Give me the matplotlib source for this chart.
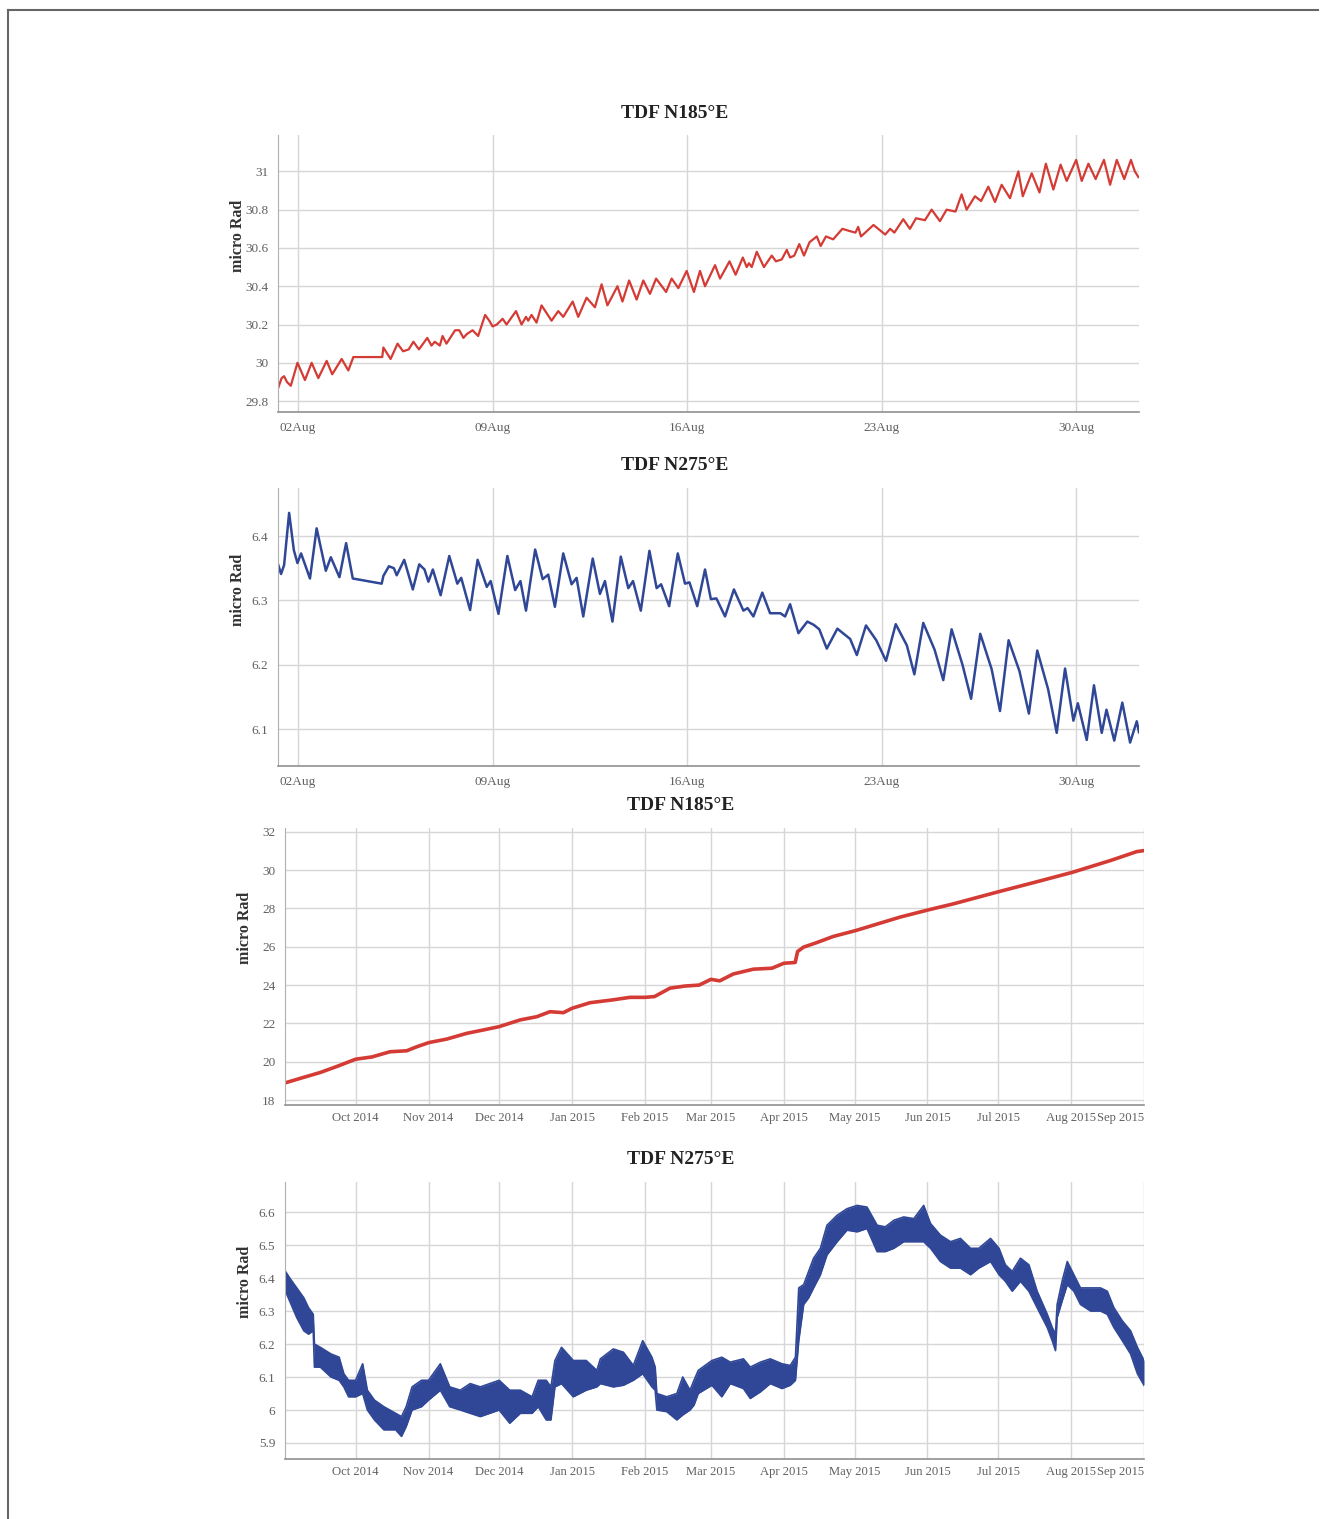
import numpy as np
import pandas as pd
import matplotlib
matplotlib.use('Agg')
import matplotlib.pyplot as plt
import matplotlib.dates as mdates
from matplotlib.lines import Line2D

# --- donnees ---
# aout 2015 : jours depuis le 02 aout 00:00
aug185_t = [-0.71, -0.59, -0.50, -0.40, -0.26, -0.02, 0.25, 0.49, 0.73, 1.03, 1.23, 1.57, 1.81, 1.99,
            3.03, 3.07, 3.33, 3.58, 3.78, 3.98, 4.15, 4.35, 4.65, 4.80, 4.92, 5.10, 5.20, 5.34, 5.65,
            5.80, 5.95, 6.07, 6.28, 6.48, 6.73, 6.88, 7.00, 7.15, 7.36, 7.50, 7.84, 8.04, 8.20, 8.28,
            8.40, 8.58, 8.76, 9.12, 9.36, 9.54, 9.88, 10.08, 10.38, 10.68, 10.92, 11.13, 11.49, 11.67,
            11.91, 12.18, 12.42, 12.66, 12.88, 13.24, 13.44, 13.68, 13.98, 14.24, 14.46, 14.64, 15.00,
            15.18, 15.52, 15.74, 16.00, 16.14, 16.22, 16.32, 16.50, 16.76, 17.04, 17.19, 17.40, 17.58,
            17.70, 17.85, 18.03, 18.20, 18.40, 18.66, 18.80, 18.99, 19.25, 19.58, 19.80, 20.05, 20.15,
            20.25, 20.70, 21.12, 21.30, 21.45, 21.77, 22.01, 22.23, 22.55, 22.79, 23.09, 23.33, 23.65,
            23.87, 24.05, 24.35, 24.57, 24.83, 25.07, 25.31, 25.61, 25.91, 26.07, 26.39, 26.67, 26.90,
            27.17, 27.43, 27.65, 27.99, 28.19, 28.43, 28.69, 28.99, 29.21, 29.45, 29.72, 29.96, 30.10,
            30.23]
aug185_v = [29.87, 29.92, 29.93, 29.90, 29.88, 30.00, 29.91, 30.00, 29.92, 30.01, 29.94, 30.02, 29.96, 30.03,
            30.03, 30.08, 30.02, 30.10, 30.06, 30.07, 30.11, 30.07, 30.13, 30.09, 30.11, 30.09, 30.14, 30.10, 30.17,
            30.17, 30.13, 30.15, 30.17, 30.14, 30.25, 30.22, 30.19, 30.20, 30.23, 30.20, 30.27, 30.20, 30.24, 30.22,
            30.25, 30.21, 30.30, 30.22, 30.27, 30.24, 30.32, 30.24, 30.34, 30.29, 30.41, 30.30, 30.40, 30.32,
            30.43, 30.33, 30.43, 30.36, 30.44, 30.37, 30.44, 30.39, 30.48, 30.37, 30.48, 30.40, 30.51,
            30.44, 30.53, 30.46, 30.55, 30.50, 30.52, 30.50, 30.58, 30.50, 30.56, 30.53, 30.54, 30.59,
            30.55, 30.56, 30.62, 30.56, 30.63, 30.66, 30.61, 30.66, 30.645, 30.70, 30.69, 30.68, 30.71,
            30.66, 30.72, 30.67, 30.70, 30.68, 30.75, 30.70, 30.755, 30.745, 30.80, 30.74, 30.80, 30.79,
            30.88, 30.80, 30.87, 30.845, 30.92, 30.84, 30.93, 30.86, 31.00, 30.87, 30.99, 30.89, 31.04,
            30.905, 31.035, 30.95, 31.06, 30.95, 31.04, 30.96, 31.06, 30.93, 31.06, 30.96, 31.06, 31.00,
            30.97]

aug275_t = [-0.71, -0.61, -0.50, -0.32, -0.15, -0.02, 0.11, 0.43, 0.67, 1.00, 1.18, 1.49, 1.73, 1.97,
            3.01, 3.07, 3.27, 3.45, 3.55, 3.82, 4.13, 4.36, 4.55, 4.69, 4.85, 5.13, 5.44, 5.73, 5.87,
            6.19, 6.46, 6.79, 6.93, 7.21, 7.53, 7.81, 8.00, 8.20, 8.53, 8.80, 9.00, 9.24, 9.54, 9.84,
            10.02, 10.26, 10.60, 10.86, 11.04, 11.31, 11.61, 11.88, 12.05, 12.33, 12.64, 12.90, 13.06,
            13.35, 13.66, 13.92, 14.08, 14.36, 14.64, 14.85, 15.05, 15.36, 15.68, 16.02, 16.17, 16.38,
            16.70, 16.98, 17.35, 17.52, 17.70, 18.00, 18.32, 18.55, 18.75, 19.02, 19.40, 19.86, 20.10,
            20.43, 20.80, 21.15, 21.50, 21.90, 22.17, 22.49, 22.90, 23.21, 23.51, 23.90, 24.21, 24.54,
            24.95, 25.25, 25.56, 25.95, 26.29, 26.59, 26.98, 27.29, 27.59, 27.89, 28.05, 28.37, 28.63,
            28.91, 29.08, 29.36, 29.65, 29.93, 30.17, 30.25]
aug275_v = [6.355, 6.341, 6.355, 6.436, 6.378, 6.358, 6.373, 6.334, 6.412, 6.346, 6.367, 6.336, 6.389, 6.334,
            6.326, 6.338, 6.353, 6.350, 6.339, 6.363, 6.317, 6.356, 6.348, 6.329, 6.348, 6.308, 6.369, 6.326, 6.335,
            6.285, 6.363, 6.321, 6.330, 6.279, 6.369, 6.316, 6.330, 6.284, 6.379, 6.333, 6.340, 6.290, 6.373, 6.325,
            6.335, 6.275, 6.365, 6.310, 6.330, 6.267, 6.368, 6.319, 6.330, 6.284, 6.377, 6.319, 6.325,
            6.291, 6.373, 6.326, 6.328, 6.291, 6.348, 6.302, 6.303, 6.275, 6.317, 6.284, 6.288, 6.275,
            6.312, 6.280, 6.280, 6.275, 6.294, 6.249, 6.267, 6.262, 6.255, 6.225, 6.256, 6.240, 6.215,
            6.261, 6.238, 6.206, 6.263, 6.230, 6.185, 6.265, 6.223, 6.176, 6.255, 6.200, 6.147, 6.248,
            6.193, 6.128, 6.238, 6.190, 6.124, 6.222, 6.162, 6.094, 6.194, 6.113, 6.140, 6.083, 6.168,
            6.094, 6.130, 6.082, 6.141, 6.079, 6.112, 6.095]

# sept 2014 - sept 2015 : jours depuis le 01 sept 2014
yr185_t = [0.2, 7, 14.8, 22, 30, 37, 44.6, 51.7, 56, 61.2, 68.7, 77.2, 84, 91, 99.9, 107, 112.6, 118.3,
           122, 129.6, 138.8, 146.6, 153, 157, 163.6, 170, 176, 181, 184.7, 190.5, 199, 206.9, 212,
           216.8, 217.8, 220.3, 226, 233, 242.6, 253.6, 261.4, 273.5, 284, 303.4, 318.1, 334.4, 350.7,
           362, 365]
yr185_v = [18.90, 19.15, 19.43, 19.75, 20.13, 20.25, 20.52, 20.57, 20.78, 21.00, 21.18, 21.48, 21.65, 21.83,
           22.18, 22.35, 22.61, 22.56, 22.79, 23.08, 23.22, 23.36, 23.36, 23.40, 23.84, 23.95, 24.00, 24.30,
           24.22, 24.58, 24.83, 24.88, 25.14, 25.18, 25.75, 25.98, 26.22, 26.54, 26.85, 27.26, 27.55, 27.93,
           28.24, 28.88, 29.35, 29.88, 30.50, 30.97, 31.02]

yr275_t = [0.2, 2, 5, 8, 10, 12, 12.5, 15, 19.5, 23, 25, 27, 30, 33, 35, 38, 42, 47, 49.5, 51.5, 54, 58,
           61, 66, 70, 74.5, 78.7, 83, 87, 91, 95.5, 100, 105, 107.6, 111, 113, 114.7, 117.5, 122.5, 128,
           132.5, 134, 139.5, 143.8, 148, 152, 155.9, 157.3, 158, 162.2, 166.5, 169, 172.1, 173.8, 175.6,
           181.4, 185.6, 189.2, 194.8, 197.7, 202, 206.2, 211.2, 214.7, 216.9, 218.3, 220.4, 222.5, 224.6,
           227.5, 230.3, 234.6, 238.8, 243.1, 247.3, 251.6, 255.1, 258.7, 262.9, 267.2, 271.4, 274.3,
           278.5, 282.8, 287, 291.3, 294.8, 299.8, 303.4, 306.1, 309, 312.5, 316.1, 319.6, 323.9, 326,
           327.4, 328.1, 330.2, 332.4, 335.2, 338, 342.3, 346.5, 349.4, 352.2, 355.8, 359.3, 362.2, 365]
yr275_hi = [6.42, 6.40, 6.37, 6.34, 6.31, 6.29, 6.20, 6.19, 6.17, 6.16, 6.11, 6.09, 6.09, 6.14, 6.06, 6.03,
            6.01, 5.99, 5.98, 6.01, 6.07, 6.09, 6.09, 6.14, 6.07, 6.06, 6.08, 6.07, 6.08, 6.09, 6.06, 6.06,
            6.04, 6.09, 6.09, 6.07, 6.15, 6.19, 6.15, 6.15, 6.12, 6.155, 6.185, 6.175, 6.135, 6.21, 6.16,
            6.13, 6.05, 6.04, 6.05, 6.10, 6.06, 6.09, 6.12, 6.15, 6.16, 6.145, 6.155, 6.13, 6.145, 6.155,
            6.14, 6.135, 6.16, 6.37, 6.38, 6.42, 6.46, 6.49, 6.56, 6.59, 6.61, 6.62, 6.615, 6.56, 6.555,
            6.575, 6.585, 6.58, 6.62, 6.565, 6.53, 6.51, 6.52, 6.49, 6.49, 6.52, 6.49, 6.44, 6.42, 6.46,
            6.44, 6.36, 6.29, 6.25, 6.23, 6.32, 6.39, 6.45, 6.41, 6.37, 6.37, 6.37, 6.36, 6.31, 6.27,
            6.24, 6.19, 6.15]
yr275_lo = [6.36, 6.33, 6.28, 6.24, 6.23, 6.24, 6.13, 6.13, 6.10, 6.09, 6.07, 6.04, 6.04, 6.05, 6.00, 5.97,
            5.94, 5.94, 5.92, 5.95, 6.00, 6.01, 6.03, 6.06, 6.01, 6.00, 5.99, 5.98, 5.99, 6.00, 5.96, 5.99,
            5.99, 6.01, 5.97, 5.97, 6.07, 6.08, 6.04, 6.06, 6.07, 6.08, 6.07, 6.075, 6.09, 6.11, 6.07,
            6.06, 6.00, 5.995, 5.97, 5.985, 6.00, 6.015, 6.05, 6.075, 6.04, 6.08, 6.065, 6.035, 6.055, 6.08,
            6.065, 6.075, 6.09, 6.21, 6.32, 6.34, 6.37, 6.41, 6.47, 6.51, 6.545, 6.54, 6.55, 6.48, 6.48,
            6.49, 6.51, 6.51, 6.51, 6.49, 6.45, 6.43, 6.43, 6.41, 6.43, 6.45, 6.41, 6.39, 6.36, 6.39,
            6.36, 6.31, 6.25, 6.21, 6.18, 6.28, 6.33, 6.38, 6.36, 6.32, 6.30, 6.30, 6.29, 6.25, 6.21,
            6.17, 6.11, 6.075]

aug_ticks = ['2015-08-02', '2015-08-09', '2015-08-16', '2015-08-23', '2015-08-30']
yr_ticks = pd.date_range('2014-10-01', '2015-09-01', freq='MS')

RED = '#d43b34'
BLUE = '#2f4796'
SERIF = 'Liberation Serif'


def to_dates(base, days):
    return pd.Timestamp(base) + pd.to_timedelta(np.array(days), unit='D')


def style_axes(ax, yticks, ylim):
    ax.set_ylim(*ylim)
    ax.set_yticks(yticks)
    ax.grid(True, color='#d6d6d6', linewidth=1)
    ax.set_axisbelow(True)
    for s in ['top', 'right']:
        ax.spines[s].set_visible(False)
    ax.spines['left'].set_color('#b0b0b0')
    ax.spines['bottom'].set_color('#909090')
    ax.spines['bottom'].set_linewidth(1.2)
    ax.tick_params(length=0, pad=7, labelsize=9.5, labelcolor='#606060')
    for lab in ax.get_xticklabels() + ax.get_yticklabels():
        lab.set_fontfamily(SERIF)


fig = plt.figure(figsize=(13.3, 15.19), dpi=100)
W, H = 1330, 1519


def add_ax(l, r, t, b):
    return fig.add_axes([l / W, 1 - b / H, (r - l) / W, (b - t) / H])


def ytext(v):
    return '%g' % v


# panneau 1
ax1 = add_ax(278, 1139, 135, 412)
ax1.plot(to_dates('2015-08-02', aug185_t), aug185_v, color=RED, lw=1.6, solid_joinstyle='round')
ax1.set_xlim(to_dates('2015-08-02', [-0.72, 30.25]))
ax1.set_xticks(pd.to_datetime(aug_ticks))
ax1.xaxis.set_major_formatter(mdates.DateFormatter('%d%b'))
style_axes(ax1, [29.8, 30, 30.2, 30.4, 30.6, 30.8, 31], (29.743, 31.19))
ax1.set_yticklabels([ytext(v) for v in [29.8, 30, 30.2, 30.4, 30.6, 30.8, 31]], fontfamily=SERIF)

# panneau 2
ax2 = add_ax(278, 1139, 488, 766)
ax2.plot(to_dates('2015-08-02', aug275_t), aug275_v, color=BLUE, lw=1.8, solid_joinstyle='round')
ax2.set_xlim(to_dates('2015-08-02', [-0.72, 30.25]))
ax2.set_xticks(pd.to_datetime(aug_ticks))
ax2.xaxis.set_major_formatter(mdates.DateFormatter('%d%b'))
style_axes(ax2, [6.1, 6.2, 6.3, 6.4], (6.0425, 6.4747))
ax2.set_yticklabels([ytext(v) for v in [6.1, 6.2, 6.3, 6.4]], fontfamily=SERIF)

# panneau 3
ax3 = add_ax(285, 1144, 828, 1105)
ax3.plot(to_dates('2014-09-01', yr185_t), yr185_v, color=RED, lw=2.6, solid_joinstyle='round')
ax3.set_xlim(pd.Timestamp('2014-09-01'), pd.Timestamp('2015-09-01'))
ax3.set_xticks(yr_ticks)
ax3.xaxis.set_major_formatter(mdates.DateFormatter('%b %Y'))
style_axes(ax3, list(range(18, 33, 2)), (17.74, 32.2))
ax3.set_yticklabels([str(v) for v in range(18, 33, 2)], fontfamily=SERIF)

# panneau 4
ax4 = add_ax(285, 1144, 1182, 1459)
d4 = to_dates('2014-09-01', yr275_t)
ax4.fill_between(d4, yr275_lo, yr275_hi, color=BLUE, lw=0)
ax4.plot(d4, yr275_hi, color=BLUE, lw=1.2)
ax4.plot(d4, yr275_lo, color=BLUE, lw=1.2)
ax4.set_xlim(pd.Timestamp('2014-09-01'), pd.Timestamp('2015-09-01'))
ax4.set_xticks(yr_ticks)
ax4.xaxis.set_major_formatter(mdates.DateFormatter('%b %Y'))
yt4 = [5.9, 6.0, 6.1, 6.2, 6.3, 6.4, 6.5, 6.6]
style_axes(ax4, yt4, (5.8515, 6.691))
ax4.set_yticklabels([ytext(v) for v in yt4], fontfamily=SERIF)

for ax in (ax3, ax4):
    ax.tick_params(axis='x', pad=5, labelsize=9.1)
    labs = ax.get_xticklabels()
    labs[-1].set_horizontalalignment('right')
    for lab in labs:
        lab.set_fontfamily(SERIF)

# titres et labels
for (x, y, t) in [(675, 113, 'TDF N185°E'), (675, 466, 'TDF N275°E'),
                  (681, 805, 'TDF N185°E'), (681, 1159, 'TDF N275°E')]:
    fig.text(x / W, 1 - y / H, t, ha='center', va='center', fontsize=14,
             fontweight='bold', fontfamily=SERIF, color='#222222')
for (x, y) in [(238, 236), (238, 590), (245, 928), (245, 1282)]:
    fig.text(x / W, 1 - y / H, 'micro Rad', ha='center', va='center', rotation=90,
             fontsize=11.5, fontweight='bold', fontfamily=SERIF, color='#333333')

# cadre
fig.add_artist(Line2D([8 / W, 1318 / W], [1 - 10 / H, 1 - 10 / H], color='#666666', lw=1.5))
fig.add_artist(Line2D([8 / W, 8 / W], [1 - 10 / H, 0], color='#666666', lw=1.5))

fig.savefig('out.png', dpi=100)
